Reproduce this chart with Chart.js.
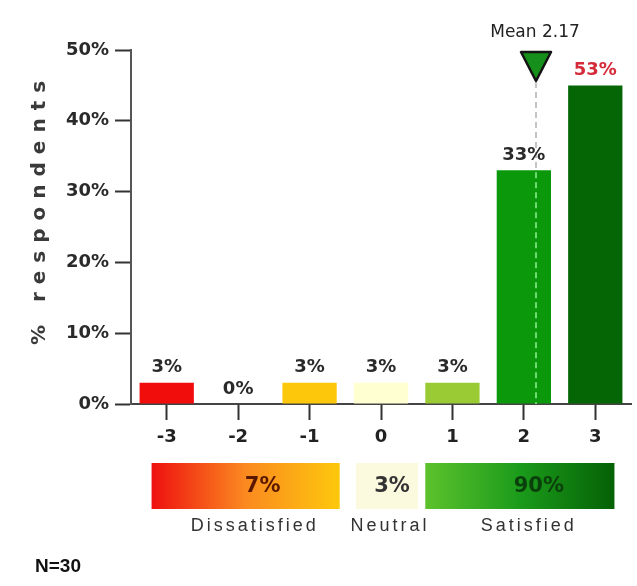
<!DOCTYPE html>
<html>
<head>
<meta charset="utf-8">
<script src="https://cdn.jsdelivr.net/npm/chart.js@4"></script>
<style>
  html, body { margin: 0; padding: 0; background: #fff; }
  #wrap { width: 637px; height: 586px; }
</style>
</head>
<body>
<div id="wrap"><canvas id="chart" width="637" height="586"></canvas></div>
<script>
// scale points and % of respondents
const categories = ['-3', '-2', '-1', '0', '1', '2', '3'];
const percents = [3, 0, 3, 3, 3, 33, 53];
const yTicks = [0, 10, 20, 30, 40, 50];

// summary groups
const groupLabels = ['Dissatisfied', 'Neutral', 'Satisfied'];
const groupPercents = [7, 3, 90];
const groupRanges = [[0, 2], [3, 3], [4, 6]];

const meanScore = 2.17;
const respondents = 30;

// bars taller than this are cut and their label turns red
const displayCap = 45;

const barColors = ['#f20d0d', '#ffffff', '#fdc70c', '#ffffd2', '#9acb34', '#0b980b', '#046604'];
const FONT = '"DejaVu Sans", Verdana, sans-serif';
const ARIAL = '"Liberation Sans", Arial, sans-serif';

function meanPixel(x) {
  const i = Math.floor(meanScore) + 3;
  const a = x.getPixelForValue(i), b = x.getPixelForValue(i + 1);
  return a + (meanScore - Math.floor(meanScore)) * (b - a);
}

const overlay = {
  id: 'overlay',
  beforeDatasetsDraw(chart) {
    const { ctx, scales: { x, y } } = chart;
    const mx = meanPixel(x);
    ctx.save();
    ctx.strokeStyle = '#c4c4c4';
    ctx.lineWidth = 2;
    ctx.setLineDash([6, 4]);
    ctx.beginPath();
    ctx.moveTo(mx, 82);
    ctx.lineTo(mx, y.getPixelForValue(0));
    ctx.stroke();
    ctx.restore();
  },
  afterDatasetsDraw(chart) {
    const { ctx, scales: { x, y } } = chart;
    const meta = chart.getDatasetMeta(0);
    const base = y.getPixelForValue(0);
    const mx = meanPixel(x);

    // dashed mean line over the bar it crosses
    const i = Math.floor(meanScore) + 3;
    ctx.save();
    ctx.strokeStyle = '#6fdc6f';
    ctx.lineWidth = 2;
    ctx.setLineDash([6, 4]);
    ctx.beginPath();
    ctx.moveTo(mx, meta.data[i].y + 2);
    ctx.lineTo(mx, base);
    ctx.stroke();
    ctx.restore();

    // bar labels
    ctx.save();
    ctx.textAlign = 'center';
    ctx.textBaseline = 'bottom';
    ctx.font = 'bold 18px ' + FONT;
    meta.data.forEach((bar, k) => {
      ctx.fillStyle = percents[k] > displayCap ? '#d42a3a' : '#2a2a2a';
      ctx.fillText(percents[k] + '%', bar.x, bar.y - 6);
    });
    ctx.restore();

    // mean marker
    ctx.save();
    ctx.fillStyle = '#222';
    ctx.font = '17px ' + FONT;
    ctx.textAlign = 'center';
    ctx.textBaseline = 'middle';
    ctx.fillText('Mean ' + meanScore.toFixed(2), mx - 1, 33);
    ctx.beginPath();
    ctx.moveTo(mx - 15, 52);
    ctx.lineTo(mx + 15, 52);
    ctx.lineTo(mx, 81);
    ctx.closePath();
    ctx.fillStyle = '#16901a';
    ctx.fill();
    ctx.lineWidth = 2.5;
    ctx.lineJoin = 'round';
    ctx.strokeStyle = '#141414';
    ctx.stroke();
    ctx.restore();
  },
  afterDraw(chart) {
    const { ctx, scales: { x } } = chart;
    const meta = chart.getDatasetMeta(0);
    const half = meta.data[0].width / 2;

    // y axis title
    ctx.save();
    ctx.translate(40, 213);
    ctx.rotate(-Math.PI / 2);
    ctx.font = 'bold 20px ' + FONT;
    ctx.letterSpacing = '8px';
    ctx.fillStyle = '#3a3a3a';
    ctx.textAlign = 'center';
    ctx.textBaseline = 'middle';
    ctx.fillText('% respondents', 4, 0);
    ctx.restore();

    // summary boxes
    const top = 463, h = 46;
    const fills = [
      (l, r) => {
        const g = ctx.createLinearGradient(l, 0, r, 0);
        g.addColorStop(0, '#ee1010');
        g.addColorStop(0.5, '#fb8a20');
        g.addColorStop(1, '#fdc80c');
        return g;
      },
      () => '#fbfadf',
      (l, r) => {
        const g = ctx.createLinearGradient(l, 0, r, 0);
        g.addColorStop(0, '#5cc22c');
        g.addColorStop(0.5, '#1b9b1b');
        g.addColorStop(1, '#056105');
        return g;
      }
    ];
    const textColors = ['#5a1800', '#333', '#0b3f0b'];
    const valueShift = [17, 5, 19];
    const labelShift = [9, 3, 9];
    groupRanges.forEach(([a, b], k) => {
      let l = x.getPixelForValue(a) - half + 12;
      let r = x.getPixelForValue(b) + half + 3;
      if (k === 1) { l = x.getPixelForValue(a) - half + 2; r = x.getPixelForValue(b) + half + 10; }
      if (k === 2) { l = x.getPixelForValue(a) - half; r = x.getPixelForValue(b) + half - 8; }
      ctx.save();
      ctx.fillStyle = fills[k](l, r);
      ctx.fillRect(l, top, r - l, h);
      const cx = (l + r) / 2;
      ctx.textAlign = 'center';
      ctx.textBaseline = 'middle';
      ctx.font = 'bold 21px ' + FONT;
      ctx.fillStyle = textColors[k];
      ctx.fillText(groupPercents[k] + '%', cx + valueShift[k], top + h / 2 + 1);
      ctx.font = '18px ' + ARIAL;
      ctx.letterSpacing = '3px';
      ctx.fillStyle = '#333';
      ctx.fillText(groupLabels[k], cx + labelShift[k], 526);
      ctx.restore();
    });

    // sample size
    ctx.save();
    ctx.font = 'bold 19px ' + ARIAL;
    ctx.fillStyle = '#111';
    ctx.textBaseline = 'middle';
    ctx.fillText('N=' + respondents, 35, 567);
    ctx.restore();
  }
};

new Chart(document.getElementById('chart').getContext('2d'), {
  type: 'bar',
  data: {
    labels: categories,
    datasets: [{
      data: percents.map(v => Math.min(v, displayCap)),
      backgroundColor: barColors,
      borderWidth: 0,
      barPercentage: 0.76,
      categoryPercentage: 1
    }]
  },
  options: {
    responsive: false,
    animation: false,
    layout: { padding: { left: 0, right: 6, top: 50, bottom: 142 } },
    plugins: { legend: { display: false }, tooltip: { enabled: false } },
    scales: {
      x: {
        afterFit: s => { s.height = 40; },
        grid: { offset: false, drawOnChartArea: false, drawTicks: true, tickLength: 16, tickWidth: 2, color: '#333' },
        border: { color: '#444', width: 2 },
        ticks: { color: '#222', padding: 7, font: { family: FONT, size: 18, weight: 'bold' } }
      },
      y: {
        min: 0,
        max: 50,
        afterFit: s => { s.width = 131; },
        afterBuildTicks: s => { s.ticks = yTicks.map(v => ({ value: v })); },
        grid: { drawOnChartArea: false, drawTicks: true, tickLength: 16, tickWidth: 2, color: '#333' },
        border: { color: '#555', width: 2 },
        ticks: {
          color: '#2a2a2a',
          padding: 6,
          font: { family: FONT, size: 18, weight: 'bold' },
          callback: v => v + '%'
        }
      }
    }
  },
  plugins: [overlay]
});
</script>
</body>
</html>
